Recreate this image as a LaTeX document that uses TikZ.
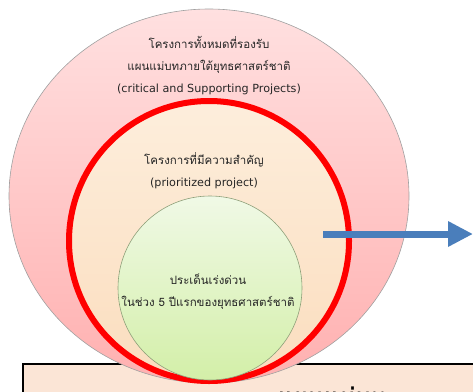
\documentclass[tikz,border=0pt]{standalone}
\usepackage{fontspec}
\newfontfamily\thaifont[Script=Thai]{Loma}
\newfontfamily\latinfont{DejaVu Sans}
\newcommand{\engtxt}{\latinfont\fontsize{11.2}{13}\selectfont}
\usetikzlibrary{arrows.meta,positioning,shapes.geometric}
\definecolor{pinktop}{HTML}{FFE0E0}
\definecolor{pinkbot}{HTML}{FFB0B0}
\definecolor{peachtop}{HTML}{FDEEDC}
\definecolor{peachbot}{HTML}{FBDDBE}
\definecolor{greentop}{HTML}{F0F9E6}
\definecolor{greenbot}{HTML}{D3EFA8}
\definecolor{rimgray}{HTML}{A0A0A0}
\definecolor{rimgreen}{HTML}{8FA07A}
\definecolor{ringred}{HTML}{FF0000}
\definecolor{arrowblue}{HTML}{4A7EBB}
\definecolor{notefill}{HTML}{FBE5D6}
\tikzset{
  zone/.style={inner sep=0pt},
  txt/.style={font=\thaifont\fontsize{11.5}{22}\selectfont, align=center, text=black!85, inner sep=0pt},
  pointer/.style={-{Triangle[length=25pt,width=24pt]}, line width=7pt, draw=arrowblue},
  notebox/.style={draw=black, line width=2pt, fill=notefill}
}
\begin{document}
\begin{tikzpicture}[x=1pt,y=-1pt]
\clip (0,0) rectangle (473,391);
% note box first, the zones lie over its top edge
\node[notebox, anchor=north west, minimum width=470pt, minimum height=60pt] (note) at (22,363) {};
\node[font=\thaifont\bfseries\fontsize{24}{28}\selectfont, anchor=base west, inner sep=0pt] (notetxt) at (278,405) {แผนแม่บท};
% outer zone: all projects
\node[zone, ellipse, draw=rimgray, line width=0.6pt, top color=pinktop, bottom color=pinkbot,
  minimum width=400pt, minimum height=374pt] (allproj) at (209,196) {};
% prioritized ring
\node[zone, circle, draw=ringred, line width=6pt, top color=peachtop, bottom color=peachbot,
  minimum size=280pt] (prio) at (209,241) {};
% urgent issues
\node[zone, circle, draw=rimgreen, line width=0.6pt, top color=greentop, bottom color=greenbot,
  minimum size=184pt] (urgent) at (210,288) {};
\node[txt] (alltxt) at (209,66) {โครงการทั้งหมดที่รองรับ\\แผนแม่บทภายใต้ยุทธศาสตร์ชาติ\\{\engtxt (critical and Supporting Projects)}};
\node[txt] (priotxt) at (204,171) {โครงการที่มีความสำคัญ\\{\engtxt (prioritized project)}};
\node[txt] (urgtxt) at (208,292) {ประเด็นเร่งด่วน\\ในช่วง 5 ปีแรกของยุทธศาสตร์ชาติ};
\coordinate (arrowfrom) at (323,234);
\coordinate (arrowto) at (473,234);
\draw[pointer] (arrowfrom) -- (arrowto);
\end{tikzpicture}
\end{document}
